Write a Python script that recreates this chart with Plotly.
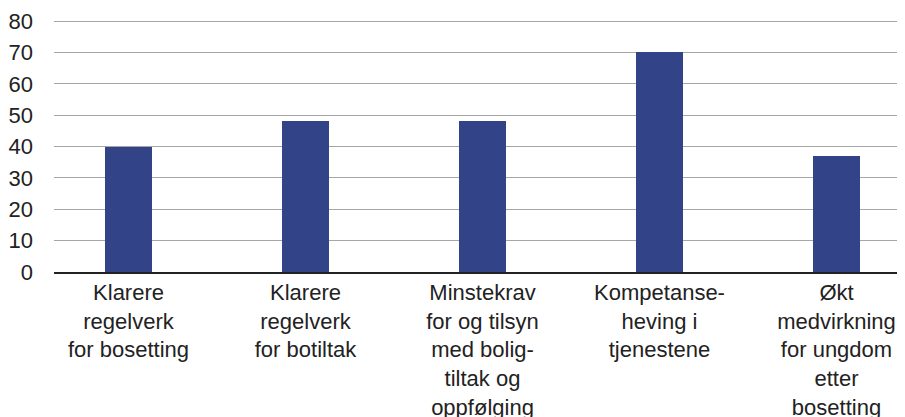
import plotly.graph_objects as go

categories = [
    "Klarere<br>regelverk<br>for bosetting",
    "Klarere<br>regelverk<br>for botiltak",
    "Minstekrav<br>for og tilsyn<br>med bolig-<br>tiltak og<br>oppfølging",
    "Kompetanse-<br>heving i<br>tjenestene",
    "Økt<br>medvirkning<br>for ungdom<br>etter<br>bosetting",
]
values = [40, 48, 48, 70, 37]
y_ticks = [0, 10, 20, 30, 40, 50, 60, 70, 80]

fig = go.Figure()
fig.add_trace(go.Bar(
    x=list(range(len(categories))),
    y=values,
    width=0.266,
    marker=dict(color="#334388", line=dict(width=0)),
))

# page body has an 8px default margin; figure is sized to fill the rest
fig.update_layout(
    width=897, height=409,
    margin=dict(l=46, r=0, t=10, b=145, autoexpand=False),
    paper_bgcolor="white", plot_bgcolor="white",
    font=dict(family="Liberation Sans, Arial, sans-serif", size=22, color="#222222"),
    showlegend=False,
    bargap=0,
)
fig.update_xaxes(
    range=[-0.421, 4.387],
    tickmode="array",
    tickvals=list(range(len(categories))),
    ticktext=categories,
    showgrid=False,
    showline=True, linecolor="#222222", linewidth=1.5,
    ticks="", zeroline=False,
    tickfont=dict(size=22, color="#222222"),
    ticklabelstandoff=0,
    automargin=False,
)
fig.update_yaxes(
    range=[0, 81],
    tickmode="array",
    tickvals=y_ticks,
    showgrid=True, gridcolor="#a6a6a6", gridwidth=1,
    zeroline=False, showline=False,
    ticks="", ticklabelstandoff=20,
    tickfont=dict(size=22, color="#222222"),
    automargin=False,
)

fig.write_html("out.html")
